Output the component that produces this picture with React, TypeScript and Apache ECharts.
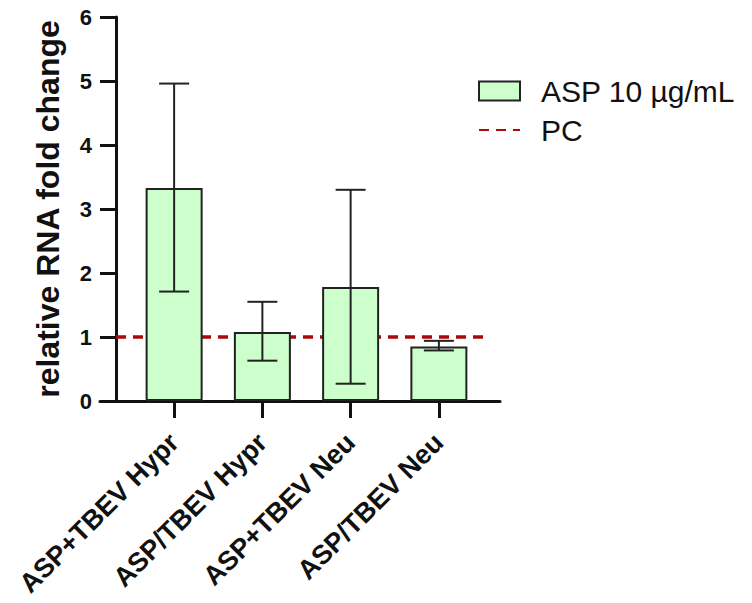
import React, { useEffect, useRef } from "react";
import * as echarts from "echarts";

const categories = ["ASP+TBEV Hypr", "ASP/TBEV Hypr", "ASP+TBEV Neu", "ASP/TBEV Neu"];
const barValues = [3.33, 1.08, 1.78, 0.85];
const errLow = [1.71, 0.63, 0.27, 0.79];
const errHigh = [4.96, 1.55, 3.3, 0.94];
const pcLevel = 1;
const yTicks = [0, 1, 2, 3, 4, 5, 6];
const barName = "ASP 10 µg/mL";
const lineName = "PC";

const FONT = "'Liberation Sans', Arial, Helvetica, sans-serif";

export default function App() {
  const ref = useRef<HTMLDivElement>(null);
  useEffect(() => {
    if (!ref.current) return;
    const chart = echarts.init(ref.current, null, { renderer: "svg" });
    const errData = categories.map((_, i) => [i, errLow[i], errHigh[i]]);
    const option: any = {
      animation: false,
      backgroundColor: "#ffffff",
      textStyle: { fontFamily: FONT },
      legend: {
        orient: "vertical",
        left: 478,
        top: 76,
        padding: 0,
        itemWidth: 41,
        itemHeight: 19,
        itemGap: 9,
        textStyle: { fontSize: 30, color: "#111", fontFamily: FONT, padding: [0, 0, 0, 16] },
        data: [
          { name: barName, icon: "rect" },
          { name: lineName, itemStyle: { opacity: 0 } },
        ],
      },
      grid: [
        { left: 130, right: 269, top: 17, bottom: 202, containLabel: false },
        { left: 100, right: 252, top: 17, bottom: 202, containLabel: false },
      ],
      xAxis: [
        {
          type: "category",
          gridIndex: 0,
          data: categories,
          axisLine: { show: false },
          axisTick: { show: true, alignWithLabel: true, length: 17, lineStyle: { color: "#111", width: 3 } },
          axisLabel: {
            rotate: 45,
            margin: 37,
            fontSize: 27,
            fontWeight: "bold",
            color: "#111",
            fontFamily: FONT,
            interval: 0,
          },
          splitLine: { show: false },
        },
        {
          type: "value",
          gridIndex: 1,
          min: 0,
          max: 1,
          axisLine: { show: true, onZero: false, lineStyle: { color: "#111", width: 3 } },
          axisTick: { show: false },
          axisLabel: { show: false },
          splitLine: { show: false },
        },
      ],
      yAxis: [
        {
          type: "value",
          gridIndex: 0,
          min: 0,
          max: 6,
          interval: 1,
          offset: 14,
          name: "relative RNA fold change",
          nameLocation: "middle",
          nameGap: 52,
          nameTextStyle: { fontSize: 32, fontWeight: "bold", color: "#111", fontFamily: FONT },
          axisLine: { show: true, lineStyle: { color: "#111", width: 3 } },
          axisTick: { show: true, length: 16, lineStyle: { color: "#111", width: 3 } },
          axisLabel: {
            margin: 24,
            fontSize: 22,
            fontWeight: "bold",
            color: "#111",
            fontFamily: FONT,
            formatter: (v: number) => (yTicks.includes(v) ? String(v) : ""),
          },
          splitLine: { show: false },
        },
        {
          type: "value",
          gridIndex: 1,
          min: 0,
          max: 6,
          show: false,
        },
      ],
      series: [
        {
          name: lineName,
          type: "line",
          xAxisIndex: 1,
          yAxisIndex: 1,
          z: 1,
          symbol: "none",
          showSymbol: false,
          lineStyle: { color: "#a80a0a", width: 3.5, type: [10, 7] },
          itemStyle: { color: "#a80a0a" },
          data: [
            [0.04, pcLevel],
            [0.9725, pcLevel],
          ],
        },
        {
          name: barName,
          type: "bar",
          xAxisIndex: 0,
          yAxisIndex: 0,
          z: 2,
          barWidth: 57,
          itemStyle: { color: "#ccffcc", borderColor: "#222", borderWidth: 2 },
          data: barValues,
        },
        {
          name: "err",
          type: "custom",
          xAxisIndex: 0,
          yAxisIndex: 0,
          z: 3,
          data: errData,
          renderItem: (params: any, api: any) => {
            const x = api.value(0);
            const lo = api.coord([x, api.value(1)]);
            const hi = api.coord([x, api.value(2)]);
            const half = 15;
            const style = { stroke: "#222", lineWidth: 2 };
            return {
              type: "group",
              children: [
                { type: "line", shape: { x1: hi[0], y1: hi[1], x2: lo[0], y2: lo[1] }, style },
                { type: "line", shape: { x1: hi[0] - half, y1: hi[1], x2: hi[0] + half, y2: hi[1] }, style },
                { type: "line", shape: { x1: lo[0] - half, y1: lo[1], x2: lo[0] + half, y2: lo[1] }, style },
              ],
            };
          },
        },
      ],
    };
    chart.setOption(option);
    return () => chart.dispose();
  }, []);
  return <div ref={ref} style={{ width: 752, height: 603, position: "absolute", left: 0, top: 0 }} />;
}
